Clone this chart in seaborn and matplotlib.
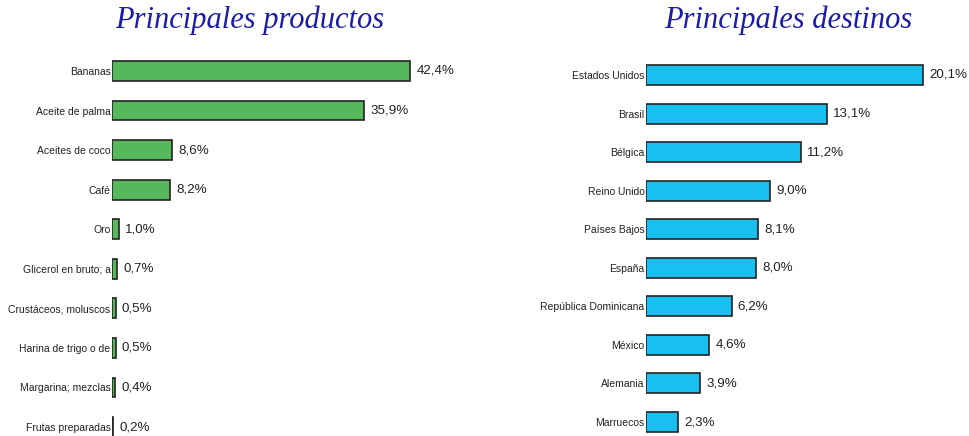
import matplotlib
matplotlib.use("Agg")
import matplotlib.pyplot as plt
import seaborn as sns
import pandas as pd

# Data
productos = ["Bananas", "Aceite de palma", "Aceites de coco", "Café", "Oro",
             "Glicerol en bruto; a", "Crustáceos, moluscos", "Harina de trigo o de",
             "Margarina; mezclas", "Frutas preparadas"]
productos_pct = [42.4, 35.9, 8.6, 8.2, 1.0, 0.7, 0.5, 0.5, 0.4, 0.2]

destinos = ["Estados Unidos", "Brasil", "Bélgica", "Reino Unido", "Países Bajos",
            "España", "República Dominicana", "México", "Alemania", "Marruecos"]
destinos_pct = [20.1, 13.1, 11.2, 9.0, 8.1, 8.0, 6.2, 4.6, 3.9, 2.3]

sns.set_style("white")
plt.rcParams["font.family"] = ["Liberation Sans", "DejaVu Sans"]

fig = plt.figure(figsize=(9.69, 4.36), dpi=100)
W, H = 969, 436


def add_ax(x0, x1, y_top, y_bot):
    return fig.add_axes([x0 / W, 1 - y_bot / H, (x1 - x0) / W, (y_bot - y_top) / H])


def draw_panel(ax, cats, vals, color, xmax, width):
    df = pd.DataFrame({"cat": cats, "val": vals})
    sns.barplot(data=df, x="val", y="cat", orient="h", color=color, width=width,
                edgecolor="#222222", linewidth=1.2, saturation=1, ax=ax)
    ax.set_xlim(0, xmax)
    ax.set_xlabel("")
    ax.set_ylabel("")
    ax.set_xticks([])
    sns.despine(ax=ax, left=True, bottom=True)
    ax.tick_params(axis="y", length=0, pad=1, labelsize=7.5, labelcolor="#222222")
    labels = [f"{v:.1f}".replace(".", ",") + "%" for v in vals]
    ax.bar_label(ax.containers[0], labels=labels, padding=4.5, fontsize=9.6,
                 color="#222222")


ax1 = add_ax(112, 480, 51.2, 446.8)
draw_panel(ax1, productos, productos_pct, "#56b85a", (480 - 112) / 7.03, 0.5)

ax2 = add_ax(646, 965, 55.7, 441.3)
draw_panel(ax2, destinos, destinos_pct, "#19bfee", (965 - 646) / 13.8, 0.52)

title_kw = dict(fontsize=22, style="italic", color="#1c1ca8",
                family=["Liberation Serif", "DejaVu Serif"], ha="center", va="center")
fig.text(250 / W, 1 - 20 / H, "Principales productos", **title_kw)
fig.text(788 / W, 1 - 20 / H, "Principales destinos", **title_kw)

fig.savefig("out.png", dpi=100)
